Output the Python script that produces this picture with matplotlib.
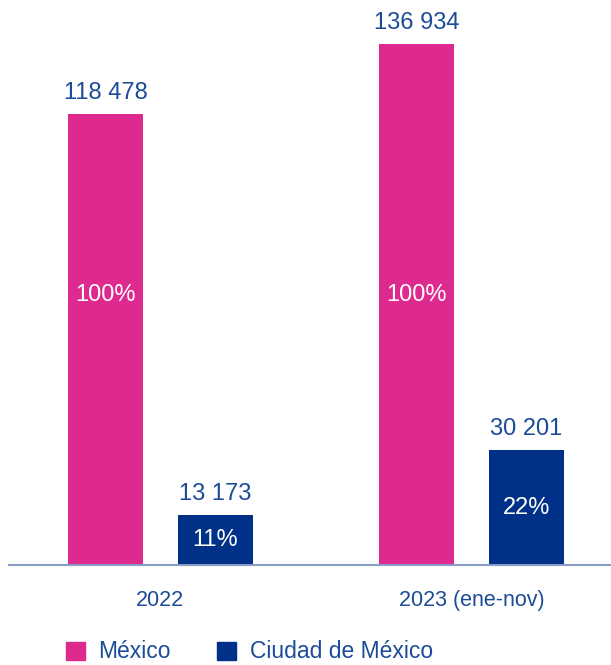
import matplotlib
matplotlib.use("Agg")
import matplotlib.pyplot as plt
from matplotlib.patches import Patch
from matplotlib.transforms import blended_transform_factory
import numpy as np

categories = ["2022", "2023 (ene-nov)"]
series_names = ["México", "Ciudad de México"]
mexico = [118478, 136934]
cdmx = [13173, 30201]
mexico_pct = ["100%", "100%"]
cdmx_pct = ["11%", "22%"]

c_mx = "#DE2A8F"
c_cd = "#003087"
c_txt = "#1C4B98"
font = "Liberation Sans"

fig = plt.figure(figsize=(6.11, 6.65), dpi=100)
ax = fig.add_axes([9/611, 1 - 565/665, 1 - 9/611, 565/665])

x = np.arange(len(categories))
w = 0.241
off = 0.177

b1 = ax.bar(x - off, mexico, width=w, color=c_mx)
b2 = ax.bar(x + off, cdmx, width=w, color=c_cd)

def fmt(v):
    return f"{v:,}".replace(",", " ")

trans = blended_transform_factory(ax.transData, ax.transAxes)
for i, (bars, vals, pcts) in enumerate([(b1, mexico, mexico_pct), (b2, cdmx, cdmx_pct)]):
    for b, v, p in zip(bars, vals, pcts):
        cx = b.get_x() + b.get_width() / 2
        ax.annotate(fmt(v), (cx, v), xytext=(0, 7), textcoords="offset points",
                    ha="center", va="bottom", fontsize=17, color=c_txt, family=font)
        if i == 0:
            ax.text(cx, 0.478, p, ha="center", va="center", fontsize=17,
                    color="white", family=font, transform=trans)
        else:
            ax.text(cx, v / 2, p, ha="center", va="center", fontsize=17,
                    color="white", family=font)

ax.set_xlim(-0.487, 1.449)
ax.set_ylim(0, 148450)
for s in ["top", "right", "left"]:
    ax.spines[s].set_visible(False)
ax.spines["bottom"].set_color("#8A9CC6")
ax.spines["bottom"].set_linewidth(1.5)
ax.set_yticks([])
ax.set_xticks(x)
ax.set_xticklabels(categories, fontsize=15.5, color=c_txt, family=font)
ax.tick_params(axis="x", length=0, pad=18)

handles = [Patch(color=c_mx), Patch(color=c_cd)]
fig.legend(handles, series_names, loc="center", bbox_to_anchor=(0.408, 1 - 652/665),
           ncol=2, frameon=False, prop={"family": font, "size": 16.5},
           labelcolor=c_txt, handlelength=0.83, handleheight=0.83,
           handletextpad=0.6, columnspacing=2.0)

fig.savefig("out.png", dpi=100)
